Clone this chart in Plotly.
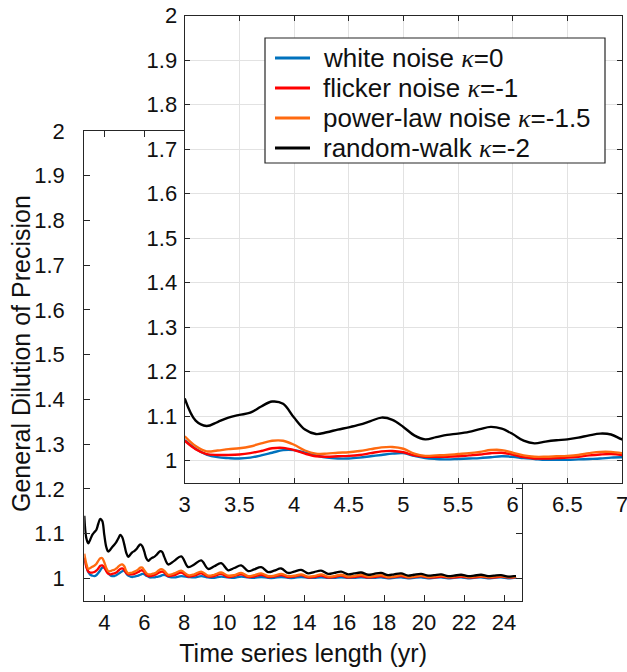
import plotly.graph_objects as go

# ---------------- data ----------------
years = [3.0, 3.1, 3.2, 3.3, 3.4, 3.5, 3.6, 3.7, 3.8, 3.9,
         4.0, 4.1, 4.2, 4.3, 4.4, 4.5, 4.6, 4.7, 4.8, 4.9,
         5.0, 5.1, 5.2, 5.3, 5.4, 5.5, 5.6, 5.7, 5.8, 5.9,
         6.0, 6.1, 6.2, 6.3, 6.4, 6.5, 6.6, 6.7, 6.8, 6.9, 7.0,
         7.2, 7.5, 7.85, 8.2, 8.5, 8.85, 9.2, 9.5, 9.85, 10.2, 10.5, 10.85,
         11.2, 11.5, 11.85, 12.2, 12.5, 12.85, 13.2, 13.5, 13.85, 14.2, 14.5, 14.85,
         15.2, 15.5, 15.85, 16.2, 16.5, 16.85, 17.2, 17.5, 17.85, 18.2, 18.5, 18.85,
         19.2, 19.5, 19.85, 20.2, 20.5, 20.85, 21.2, 21.5, 21.85, 22.2, 22.5, 22.85,
         23.2, 23.5, 23.85, 24.2, 24.5, 24.6]

white_noise = [1.046, 1.027, 1.014, 1.008, 1.006, 1.005, 1.007, 1.012, 1.018, 1.024,
               1.024, 1.018, 1.012, 1.007, 1.005, 1.005, 1.007, 1.010, 1.013, 1.016,
               1.017, 1.011, 1.006, 1.004, 1.003, 1.004, 1.005, 1.006, 1.008, 1.010,
               1.009, 1.006, 1.004, 1.002, 1.002, 1.002, 1.003, 1.004, 1.005, 1.007, 1.008,
               1.004, 1.002, 1.005, 1.003, 1.002, 1.005, 1.002, 1.001, 1.004, 1.002, 1.001, 1.004,
               1.002, 1.001, 1.003, 1.001, 1.001, 1.003, 1.001, 1.001, 1.003, 1.001, 1.001, 1.002,
               1.001, 1.001, 1.002, 1.001, 1.001, 1.002, 1.001, 1.001, 1.002, 1.000, 1.001, 1.002,
               1.000, 1.001, 1.002, 1.000, 1.001, 1.002, 1.000, 1.001, 1.002, 1.000, 1.001, 1.002,
               1.000, 1.001, 1.002, 1.000, 1.001, 1.001]

flicker_noise = [1.045, 1.026, 1.015, 1.013, 1.013, 1.014, 1.017, 1.022, 1.028, 1.029,
                 1.024, 1.016, 1.010, 1.009, 1.010, 1.011, 1.013, 1.017, 1.021, 1.022,
                 1.019, 1.012, 1.009, 1.009, 1.009, 1.010, 1.012, 1.014, 1.017, 1.018,
                 1.014, 1.008, 1.005, 1.005, 1.006, 1.007, 1.009, 1.012, 1.014, 1.015, 1.013,
                 1.005, 1.007, 1.013, 1.004, 1.006, 1.011, 1.004, 1.005, 1.010, 1.003, 1.005, 1.009,
                 1.003, 1.004, 1.008, 1.003, 1.004, 1.007, 1.003, 1.004, 1.007, 1.002, 1.003, 1.006,
                 1.002, 1.003, 1.006, 1.002, 1.003, 1.005, 1.002, 1.003, 1.005, 1.002, 1.003, 1.005,
                 1.002, 1.003, 1.005, 1.002, 1.002, 1.004, 1.002, 1.002, 1.004, 1.002, 1.002, 1.004,
                 1.002, 1.002, 1.004, 1.002, 1.002, 1.003]

power_law_noise = [1.055, 1.033, 1.021, 1.023, 1.026, 1.028, 1.032, 1.039, 1.045, 1.045,
                   1.036, 1.023, 1.016, 1.016, 1.018, 1.019, 1.022, 1.026, 1.030, 1.031,
                   1.027, 1.016, 1.011, 1.012, 1.013, 1.015, 1.017, 1.020, 1.024, 1.024,
                   1.018, 1.012, 1.009, 1.009, 1.010, 1.011, 1.013, 1.017, 1.020, 1.020, 1.017,
                   1.008, 1.011, 1.017, 1.007, 1.009, 1.015, 1.006, 1.008, 1.013, 1.006, 1.007, 1.012,
                   1.005, 1.007, 1.011, 1.005, 1.006, 1.010, 1.005, 1.006, 1.009, 1.004, 1.005, 1.009,
                   1.004, 1.005, 1.008, 1.004, 1.005, 1.008, 1.004, 1.005, 1.007, 1.003, 1.004, 1.007,
                   1.003, 1.004, 1.006, 1.003, 1.004, 1.006, 1.003, 1.004, 1.006, 1.003, 1.004, 1.005,
                   1.003, 1.004, 1.005, 1.003, 1.003, 1.004]

random_walk = [1.140, 1.090, 1.078, 1.087, 1.097, 1.103, 1.108, 1.122, 1.133, 1.128,
               1.097, 1.070, 1.060, 1.064, 1.070, 1.075, 1.081, 1.089, 1.097, 1.092,
               1.076, 1.057, 1.048, 1.053, 1.058, 1.061, 1.065, 1.071, 1.076, 1.072,
               1.060, 1.045, 1.039, 1.043, 1.046, 1.048, 1.052, 1.057, 1.061, 1.059, 1.048,
               1.031, 1.039, 1.049, 1.025, 1.031, 1.040, 1.021, 1.027, 1.034, 1.018, 1.023, 1.029,
               1.016, 1.020, 1.025, 1.014, 1.017, 1.022, 1.012, 1.015, 1.019, 1.011, 1.014, 1.017,
               1.010, 1.012, 1.015, 1.009, 1.011, 1.013, 1.008, 1.010, 1.012, 1.007, 1.009, 1.011,
               1.006, 1.008, 1.010, 1.006, 1.007, 1.009, 1.005, 1.006, 1.008, 1.005, 1.006, 1.008,
               1.005, 1.006, 1.007, 1.004, 1.005, 1.005]

KAPPA = "<span style=\"font-family:'Liberation Serif'\"><i>κ</i></span>"
series_names = ["white noise " + KAPPA + "=0",
                "flicker noise " + KAPPA + "=-1",
                "power-law noise " + KAPPA + "=-1.5",
                "random-walk " + KAPPA + "=-2"]
series_values = [white_noise, flicker_noise, power_law_noise, random_walk]
series_colors = ["#0072BD", "#FF0000", "#FF6A10", "#000000"]

main_xticks = [4, 6, 8, 10, 12, 14, 16, 18, 20, 22, 24]
y_ticks = [1, 1.1, 1.2, 1.3, 1.4, 1.5, 1.6, 1.7, 1.8, 1.9, 2]
inset_xticks = [3, 3.5, 4, 4.5, 5, 5.5, 6, 6.5, 7]

# ---------------- figure ----------------
W, H = 627, 672
fig = go.Figure()

for name, vals, col in zip(series_names, series_values, series_colors):
    fig.add_trace(go.Scatter(x=years, y=vals, mode="lines", name=name,
                             line=dict(color=col, width=2.3, shape="spline"),
                             xaxis="x", yaxis="y", showlegend=False))
for name, vals, col in zip(series_names, series_values, series_colors):
    fig.add_trace(go.Scatter(x=years, y=vals, mode="lines", name=name,
                             line=dict(color=col, width=2.4, shape="spline"),
                             xaxis="x2", yaxis="y2", showlegend=False))

axis_col = "#262626"
txt_col = "#111111"
font_family = "Liberation Sans, Arial, sans-serif"

common = dict(showline=True, linecolor=axis_col, linewidth=1.2, mirror="ticks",
              ticks="inside", tickcolor=axis_col, tickwidth=1.2,
              tickfont=dict(size=22, color=txt_col, family=font_family),
              zeroline=False, automargin=False, ticklabeloverflow="allow")

fig.update_layout(
    width=W, height=H,
    margin=dict(l=0, r=0, t=0, b=0, autoexpand=False),
    paper_bgcolor="white", plot_bgcolor="white",
    font=dict(family=font_family, color=txt_col),
    showlegend=False,
    xaxis=dict(domain=[84.3 / W, 522 / W], range=[3, 24.9], tickvals=main_xticks,
               ticklen=6, showgrid=False, anchor="y", ticklabelstandoff=2,
               title=dict(text="Time series length (yr)", font=dict(size=25, color=txt_col),
                          standoff=10),
               **common),
    yaxis=dict(domain=[1 - 600.7 / H, 1 - 131 / H], range=[0.95, 2], tickvals=y_ticks,
               ticklen=6, showgrid=False, anchor="x", ticklabelstandoff=14,
               **common),
    xaxis2=dict(domain=[184.7 / W, 622 / W], range=[3, 7], tickvals=inset_xticks,
                ticklen=5, showgrid=True, gridcolor="#e2e2e2", gridwidth=1,
                anchor="y2", ticklabelstandoff=1, **common),
    yaxis2=dict(domain=[1 - 483 / H, 1 - 15.7 / H], range=[0.95, 2], tickvals=y_ticks,
                ticklen=5, showgrid=True, gridcolor="#e2e2e2", gridwidth=1,
                anchor="x2", ticklabelstandoff=2, **common),
)

# ---------------- pixel helpers ----------------
def px(x):
    return x / W


def py(y):
    return 1 - y / H


# y-axis title, placed in pixels like the reference
fig.add_annotation(x=px(21), y=py(354), xref="paper", yref="paper",
                   text="General Dilution of Precision", textangle=-90, showarrow=False,
                   xanchor="center", yanchor="middle",
                   font=dict(size=25, color=txt_col, family=font_family))

# ---------------- legend box (drawn as shapes + text) ----------------
leg_left, leg_top, leg_right, leg_bottom = 265, 38, 605, 163
row_y = [58, 88, 118, 148]
fig.add_shape(type="rect", xref="paper", yref="paper",
              x0=px(leg_left), x1=px(leg_right), y0=py(leg_bottom), y1=py(leg_top),
              line=dict(color=axis_col, width=1.2), fillcolor="white", layer="above")
for name, col, ry in zip(series_names, series_colors, row_y):
    fig.add_shape(type="line", xref="paper", yref="paper",
                  x0=px(275), x1=px(310), y0=py(ry), y1=py(ry),
                  line=dict(color=col, width=3), layer="above")
    fig.add_annotation(x=px(321), y=py(ry), xref="paper", yref="paper",
                       text=name, showarrow=False, xanchor="left", yanchor="middle",
                       font=dict(size=26, color=txt_col, family=font_family))

fig.write_html("out.html", config={"displayModeBar": False},
               post_script="document.body.style.margin='0px';document.body.style.overflow='hidden';")
